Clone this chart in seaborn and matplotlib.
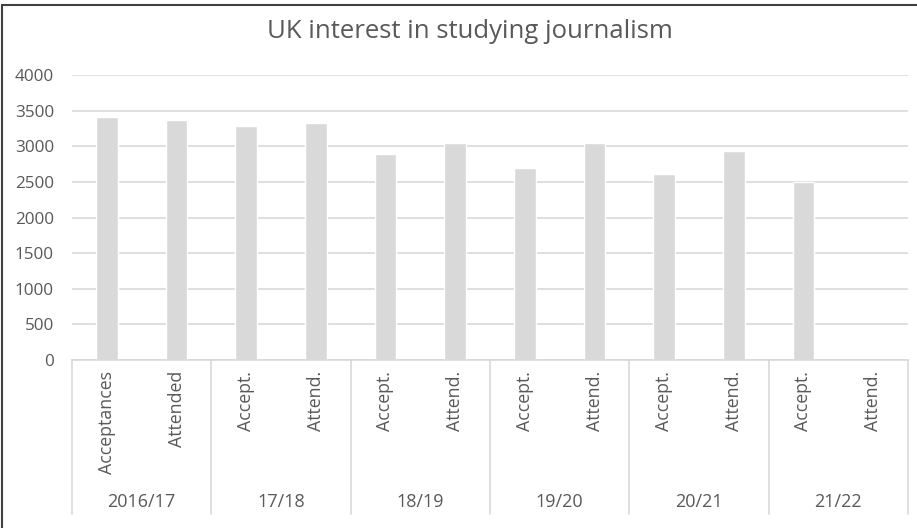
import matplotlib
matplotlib.use("Agg")
import matplotlib.pyplot as plt
from matplotlib.lines import Line2D
import matplotlib.transforms as mtransforms
import numpy as np
import pandas as pd
import seaborn as sns

# Academic years and the two measures reported for each
years = ["2016/17", "17/18", "18/19", "19/20", "20/21", "21/22"]
sub_labels = ["Acceptances", "Attended",
              "Accept.", "Attend.",
              "Accept.", "Attend.",
              "Accept.", "Attend.",
              "Accept.", "Attend.",
              "Accept.", "Attend."]
values = [3420, 3370, 3290, 3325, 2900, 3045, 2700, 3045, 2610, 2935, 2495, np.nan]

slots = [f"{years[i // 2]} {lab}" for i, lab in enumerate(sub_labels)]
df = pd.DataFrame({"slot": slots, "value": values})

sns.set_theme(style="white")
plt.rcParams["font.family"] = ["Open Sans", "DejaVu Sans"]

TEXT = "#595959"
GRID = "#d9d9d9"
BAR = "#d9d9d9"

W, H = 917, 528
fig = plt.figure(figsize=(W / 100, H / 100), dpi=100)
ax_left, ax_right = 72 / W, 908 / W
ax_bottom, ax_top = 1 - 360 / H, 1 - 75.3 / H
ax = fig.add_axes([ax_left, ax_bottom, ax_right - ax_left, ax_top - ax_bottom])

sns.barplot(data=df, x="slot", y="value", color=BAR, saturation=1,
            width=0.31, ax=ax, order=slots)

ax.set_ylim(0, 4000)
ax.set_xlim(-0.5, len(slots) - 0.5)
ax.set_yticks(np.arange(0, 4001, 500))
ax.yaxis.grid(True, color=GRID, linewidth=1.2)
ax.set_axisbelow(True)
for side in ["top", "right", "left"]:
    ax.spines[side].set_visible(False)
ax.spines["bottom"].set_color(GRID)
ax.spines["bottom"].set_linewidth(1.2)
ax.set_xlabel("")
ax.set_ylabel("")
ax.tick_params(axis="y", length=0, pad=13, labelsize=12.3, labelcolor=TEXT)
ax.set_xticks(range(len(slots)))
ax.set_xticklabels(sub_labels, rotation=90, fontsize=12.8, color=TEXT)
ax.tick_params(axis="x", length=0, pad=8)

# Year groups below the sub-category labels, separated by vertical rules
trans = mtransforms.blended_transform_factory(ax.transData, ax.transAxes)
axes_h_px = 360 - 75.3
sep_bottom = -(514 - 360) / axes_h_px
label_y = -(502 - 360) / axes_h_px
for g in range(len(years) + 1):
    xg = g * 2 - 0.5
    ax.add_line(Line2D([xg, xg], [0, sep_bottom], transform=trans,
                       color=GRID, linewidth=1.2, clip_on=False))
for g, yr in enumerate(years):
    ax.text(g * 2 + 0.5, label_y, yr, transform=trans, ha="center", va="center",
            fontsize=13, color=TEXT)

fig.text(470 / W, 1 - 31 / H, "UK interest in studying journalism",
         ha="center", va="center", fontsize=18.5, color=TEXT)

# Chart frame
fig.add_artist(Line2D([2 / W, 2 / W], [0, 1 - 5 / H], transform=fig.transFigure,
                      color="#404040", linewidth=1.5))
fig.add_artist(Line2D([2 / W, 1], [1 - 5 / H, 1 - 5 / H], transform=fig.transFigure,
                      color="#404040", linewidth=1.5))

fig.savefig("out.png", dpi=100, facecolor="white")
